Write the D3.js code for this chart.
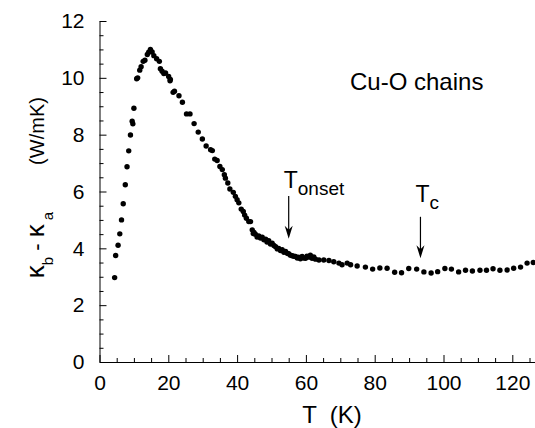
<!DOCTYPE html>
<html>
<head>
<meta charset="utf-8">
<script src="https://cdn.jsdelivr.net/npm/d3@7"></script>
<style>
  body { margin: 0; background: #fff; }
  svg { display: block; font-family: "Liberation Sans", Arial, Helvetica, sans-serif; }
  text { white-space: pre; }
</style>
</head>
<body>
<div id="chart"></div>
<script>
// temperature (K) and kappa_b - kappa_a (W/mK)
const tempK = [
  4.4, 4.7, 5.4, 5.9, 6.4, 6.9, 7.5, 8.0, 8.5, 9.0, 9.5, 9.7, 10.0, 10.8, 11.1, 11.7, 12.1, 12.7, 13.2,
  13.9, 14.3, 14.8, 15.3, 15.8, 16.6, 17.4, 17.7, 18.2, 18.7, 19.2, 20.1, 20.5, 20.6, 21.4, 21.8, 23.1,
  24.1, 25.3, 26.3, 27.5, 28.7, 29.9, 31.0, 32.3, 32.8, 33.5, 34.2, 35.0,
  35.7, 36.3, 36.6, 37.3, 37.9, 38.9, 39.5, 40.0, 40.5, 41.2, 41.8, 42.2, 42.7, 43.4, 43.9, 44.4, 44.9,
  45.3, 46.3, 47.3, 48.3, 49.2, 50.2, 51.2, 52.1, 53.1, 54.1, 55.0, 56.0, 57.0, 57.9, 58.9, 59.9, 60.8,
  61.8, 62.8, 63.8, 65.2, 66.7, 68.1, 69.6, 70.5, 72.0, 73.0, 74.9,
  44.7, 45.8, 46.8, 47.8, 48.7, 49.7, 50.7, 51.7, 52.6, 53.6, 54.6, 55.5, 56.5, 57.5, 58.4, 59.4, 60.3,
  61.3, 62.3,
  77.3, 79.4, 81.5, 83.6, 85.8, 87.8, 89.9, 92.2, 94.3, 96.4, 98.3, 100.4, 102.3, 104.4, 106.4, 108.4,
  110.6, 112.5, 114.4, 116.4, 118.5, 120.4, 122.4, 124.3, 126.1
]
const kappaDiff = [
  2.97, 3.75, 4.11, 4.51, 5.0, 5.57, 6.24, 6.87, 7.43, 7.99, 8.47, 8.38, 8.93, 9.97, 10.0, 10.27, 10.39, 10.58, 10.62,
  10.82, 10.9, 11.0, 10.91, 10.78, 10.67, 10.58, 10.32, 10.23, 10.15, 10.17, 10.05, 9.9, 9.94, 9.49, 9.53, 9.37,
  9.14, 8.73, 8.73, 8.39, 8.09, 7.85, 7.6, 7.47, 7.44, 7.14, 7.09, 6.88,
  6.77, 6.59, 6.47, 6.3, 6.09, 5.97, 5.83, 5.71, 5.6, 5.38, 5.3, 5.17, 5.06, 4.94, 4.94, 4.65, 4.56,
  4.5, 4.44, 4.39, 4.32, 4.27, 4.18, 4.06, 4.0, 3.95, 3.89, 3.81, 3.74, 3.71, 3.69, 3.71, 3.65, 3.69,
  3.65, 3.62, 3.59, 3.59, 3.57, 3.53, 3.48, 3.42, 3.48, 3.42, 3.38,
  4.52, 4.40, 4.36, 4.30, 4.22, 4.15, 4.10, 3.98, 3.92, 3.86, 3.82, 3.76, 3.72, 3.66, 3.63, 3.66, 3.72,
  3.76, 3.70,
  3.34, 3.27, 3.31, 3.30, 3.16, 3.14, 3.29, 3.27, 3.17, 3.13, 3.18, 3.29, 3.27, 3.17, 3.23, 3.2,
  3.23, 3.23, 3.28, 3.23, 3.24, 3.30, 3.34, 3.48, 3.5
]

const xTicks = [0, 20, 40, 60, 80, 100, 120]
const yTicks = [0, 2, 4, 6, 8, 10, 12]

// arrows: label, subscript, temperature, arrow top, arrow tip, label level
const markT = ["T", "T"]
const markSub = ["onset", "c"]
const markTemp = [55, 93.3]
const markFrom = [5.84, 5.11]
const markTo = [4.34, 3.65]
const markLabel = [6.12, 5.64]

const width = 535
const height = 428

const svg = d3.select("#chart")
  .append("svg")
  .attr("width", width)
  .attr("height", height)

const x = d3.scaleLinear().domain([0, 127]).range([99.5, 99.5 + 127 * 3.44])
const y = d3.scaleLinear().domain([0, 12]).range([362, 21])

// minor ticks
svg.append("g")
  .attr("transform", "translate(0,362)")
  .call(d3.axisBottom(x).tickValues(d3.range(5, 127, 5).filter(d => d % 20 != 0)).tickSize(-4).tickFormat(""))
  .call(g => g.select(".domain").remove())

svg.append("g")
  .attr("transform", "translate(99.5,0)")
  .call(d3.axisLeft(y).tickValues(d3.range(0.5, 12, 0.5).filter(d => d % 2 != 0)).tickSize(-4).tickFormat(""))
  .call(g => g.select(".domain").remove())

// major ticks
svg.append("g")
  .attr("transform", "translate(0,362)")
  .call(d3.axisBottom(x).tickValues(xTicks).tickSize(-7).tickSizeOuter(0).tickPadding(13))

svg.append("g")
  .attr("transform", "translate(99.5,0)")
  .call(d3.axisLeft(y).tickValues(yTicks).tickSize(-7).tickSizeOuter(0).tickPadding(15))

svg.selectAll(".tick text")
  .attr("font-size", 21)
  .attr("font-family", null)
  .attr("fill", "#000")
svg.selectAll(".tick line, .domain").attr("stroke", "#000")

// data
svg.append("g")
  .selectAll("circle")
  .data(tempK.map((t, i) => ({ t: t, k: kappaDiff[i] })))
  .join("circle")
  .attr("cx", d => x(d.t))
  .attr("cy", d => y(d.k))
  .attr("r", 2.7)
  .attr("fill", "#000")

// arrows and labels
markTemp.forEach((t, i) => {
  const ax = x(t)
  const y1 = y(markFrom[i])
  const y2 = y(markTo[i])
  svg.append("line")
    .attr("x1", ax).attr("x2", ax)
    .attr("y1", y1).attr("y2", y2 - 6)
    .attr("stroke", "#000")
    .attr("stroke-width", 1.2)
  svg.append("path")
    .attr("d", `M${ax},${y2} L${ax - 4},${y2 - 13} L${ax},${y2 - 9} L${ax + 4},${y2 - 13} Z`)
    .attr("fill", "#000")
  const lab = svg.append("text")
    .attr("x", ax - 5)
    .attr("y", y(markLabel[i]))
    .attr("font-size", 23)
  lab.append("tspan").text(markT[i])
  lab.append("tspan").attr("dy", 7).attr("font-size", 19).text(markSub[i])
})

svg.append("text")
  .attr("x", 350)
  .attr("y", 90)
  .attr("font-size", 24)
  .text("Cu-O chains")

// axis titles
svg.append("text")
  .attr("x", 332)
  .attr("y", 423)
  .attr("text-anchor", "middle")
  .attr("font-size", 24)
  .text("T  (K)")

const yt1 = svg.append("text")
  .attr("transform", "translate(44,245) rotate(-90)")
  .attr("text-anchor", "middle")
  .attr("font-size", 26)
yt1.append("tspan").text("κ")
yt1.append("tspan").attr("dy", 9).attr("font-size", 15).text("b")
yt1.append("tspan").attr("dy", -9).attr("font-size", 22).text(" - ")
yt1.append("tspan").text("κ")
yt1.append("tspan").attr("dy", 9).attr("font-size", 15).text(" a")

svg.append("text")
  .attr("transform", "translate(44,131) rotate(-90)")
  .attr("text-anchor", "middle")
  .attr("font-size", 20)
  .text("(W/mK)")
</script>
</body>
</html>
